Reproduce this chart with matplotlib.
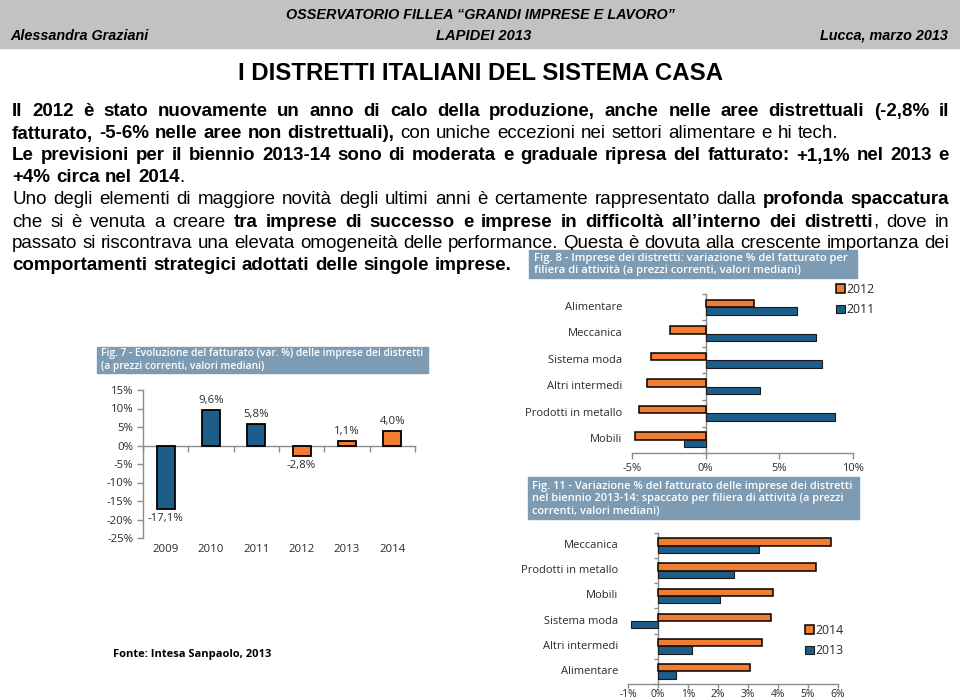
import numpy as np
import matplotlib
matplotlib.use("Agg")
import matplotlib.pyplot as plt
from matplotlib import font_manager
from matplotlib.patches import Rectangle

# ---------------- data ----------------
years = ["2009", "2010", "2011", "2012", "2013", "2014"]
fatturato_var = [-17.1, 9.6, 5.8, -2.8, 1.1, 4.0]
fatturato_labels = ["-17,1%", "9,6%", "5,8%", "-2,8%", "1,1%", "4,0%"]
fig7_yticks = [-25, -20, -15, -10, -5, 0, 5, 10, 15]

fig8_categories = ["Alimentare", "Meccanica", "Sistema moda", "Altri intermedi",
                   "Prodotti in metallo", "Mobili"]
fig8_2012 = [3.3, -2.4, -3.7, -4.0, -4.5, -4.8]
fig8_2011 = [6.2, 7.5, 7.9, 3.7, 8.8, -1.5]
fig8_xticks = [-5, 0, 5, 10]

fig11_categories = ["Meccanica", "Prodotti in metallo", "Mobili", "Sistema moda",
                    "Altri intermedi", "Alimentare"]
fig11_2014 = [5.75, 5.25, 3.83, 3.78, 3.47, 3.07]
fig11_2013 = [3.37, 2.53, 2.06, -0.89, 1.14, 0.61]
fig11_xticks = [-1, 0, 1, 2, 3, 4, 5, 6]

# ---------------- style ----------------
W, H = 960, 700
BLUE = "#1c5d8a"
ORANGE = "#f07d32"
BOXCOL = "#7d9bb3"
HEADCOL = "#c2c2c2"
AXCOL = "#8c8c8c"
TXTCOL = "#2a2a2a"
fig7_colors = [BLUE, BLUE, BLUE, ORANGE, ORANGE, ORANGE]


def has_font(name):
    try:
        font_manager.findfont(name, fallback_to_default=False)
        return True
    except Exception:
        return False


SANS = "Liberation Sans"
NARROW = "Liberation Sans Narrow" if has_font("Liberation Sans Narrow") else "Liberation Sans"
CHART = "Open Sans" if has_font("Open Sans") else "DejaVu Sans"

fig = plt.figure(figsize=(9.6, 7), dpi=100)
fig.patch.set_facecolor("white")
renderer = fig.canvas.get_renderer()


def fx(x):
    return x / W


def fy(y):
    return 1 - y / H


def text_width(s, size, family, weight="normal", style="normal"):
    t = fig.text(0, 0, s, fontsize=size, family=family, weight=weight, style=style)
    w = t.get_window_extent(renderer).width
    t.remove()
    return w


def fit_size(s, target, family, weight="normal", style="normal"):
    return 10.0 * target / text_width(s, 10.0, family, weight, style)


def put(x, y, s, size, family, weight="normal", style="normal", ha="left",
        va="center", color="black"):
    return fig.text(fx(x), fy(y), s, fontsize=size, family=family, weight=weight,
                    style=style, ha=ha, va=va, color=color)


# ---------------- header ----------------
fig.add_artist(Rectangle((0, fy(48)), 1, 48 / H, transform=fig.transFigure,
                         color=HEADCOL, zorder=0))
h1 = "OSSERVATORIO FILLEA \u201cGRANDI IMPRESE E LAVORO\u201d"
s_h = fit_size(h1, 390, NARROW, "bold", "italic")
put(480, 15, h1, s_h, NARROW, "bold", "italic", ha="center")
put(484, 36, "LAPIDEI 2013", s_h * 1.02, NARROW, "bold", "italic", ha="center")
put(10, 36, "Alessandra Graziani", s_h, NARROW, "bold", "italic", ha="left")
put(948, 36, "Lucca, marzo 2013", s_h, NARROW, "bold", "italic", ha="right")

title = "I DISTRETTI ITALIANI DEL SISTEMA CASA"
put(481, 73, title, fit_size(title, 482, NARROW, "bold"), NARROW, "bold", ha="center")

# ---------------- body text (justified) ----------------
body_lines = [
    ([("Il 2012 è stato nuovamente un anno di calo della produzione, anche nelle aree distrettuali (-2,8% il", True)], True),
    ([("fatturato, -5-6% nelle aree non distrettuali),", True),
      (" con uniche eccezioni nei settori alimentare e hi tech.", False)], False),
    ([("Le previsioni per il biennio 2013-14 sono di moderata e graduale ripresa del fatturato: +1,1% nel 2013 e", True)], True),
    ([("+4% circa nel 2014", True), (".", False)], False),
    ([("Uno degli elementi di maggiore novità degli ultimi anni è certamente rappresentato dalla ", False),
      ("profonda spaccatura", True)], True),
    ([("che si è venuta a creare ", False),
      ("tra imprese di successo e imprese in difficoltà all\u2019interno dei distretti", True),
      (", dove in", False)], True),
    ([("passato si riscontrava una elevata omogeneità delle performance. Questa è dovuta alla crescente importanza dei", False)], True),
    ([("comportamenti strategici adottati delle singole imprese.", True)], False),
]
BODY_SIZE = 13.5
BOLD_FAM = SANS
REG_FAM = NARROW


def tokenize(segments):
    words = []
    new_word = True
    for s, b in segments:
        parts = s.split(" ")
        for i, p in enumerate(parts):
            if i > 0:
                new_word = True
            if p == "":
                continue
            if new_word or not words:
                words.append([(p, b)])
            else:
                words[-1].append((p, b))
            new_word = False
    return words


def piece_w(p, b):
    return text_width(p, BODY_SIZE, BOLD_FAM if b else REG_FAM, "bold" if b else "normal")


space_w = text_width("a a", BODY_SIZE, REG_FAM) - text_width("aa", BODY_SIZE, REG_FAM)
X0, X1 = 12, 949
for k, (segs, justify) in enumerate(body_lines):
    base = 116.5 + 22.0 * k
    words = tokenize(segs)
    widths = [[piece_w(p, b) for p, b in w] for w in words]
    total = sum(sum(ws) for ws in widths)
    if justify and len(words) > 1:
        gap = (X1 - X0 - total) / (len(words) - 1)
    else:
        gap = space_w * 1.1
    x = X0
    for w, ws in zip(words, widths):
        for (p, b), pw in zip(w, ws):
            put(x, base, p, BODY_SIZE, BOLD_FAM if b else REG_FAM,
                "bold" if b else "normal", va="baseline")
            x += pw
        x += gap


# ---------------- title boxes ----------------
def title_box(x0, y0, x1, y1, lines, tx, ty_list, target_w):
    fig.add_artist(Rectangle((fx(x0), fy(y1)), (x1 - x0) / W, (y1 - y0) / H,
                             transform=fig.transFigure, color=BOXCOL, zorder=5))
    size = fit_size(lines[0], target_w, CHART, "semibold")
    for s, ty in zip(lines, ty_list):
        t = put(tx, ty, s, size, CHART, "semibold", color="white")
        t.set_zorder(6)


title_box(97, 347, 428, 373,
          ["Fig. 7 - Evoluzione del fatturato (var. %) delle imprese dei distretti",
           "(a prezzi correnti, valori mediani)"], 101, [354, 366], 322)
title_box(529, 250, 857, 278,
          ["Fig. 8 - Imprese dei distretti: variazione % del fatturato per",
           "filiera di attività (a prezzi correnti, valori mediani)"], 534, [258, 271], 314)
title_box(528, 477, 859, 519,
          ["Fig. 11 - Variazione % del fatturato delle imprese dei distretti",
           "nel biennio 2013-14: spaccato per filiera di attività (a prezzi",
           "correnti, valori mediani)"], 532, [487, 499, 511], 318)

CS = fit_size("Prodotti in metallo", 97, CHART)
CS7 = fit_size("-25%", 26, CHART)


def style_axes(ax, size):
    for sp in ["top", "right"]:
        ax.spines[sp].set_visible(False)
    for sp in ["left", "bottom"]:
        ax.spines[sp].set_color(AXCOL)
        ax.spines[sp].set_linewidth(1.0)
    ax.set_facecolor("none")
    ax.tick_params(colors=AXCOL, labelcolor=TXTCOL, labelsize=size, width=1.0, length=4)
    for lab in ax.get_xticklabels() + ax.get_yticklabels():
        lab.set_family(CHART)


# ---------------- Fig. 7 ----------------
ax7 = fig.add_axes([fx(143), fy(538), (415 - 143) / W, (538 - 390) / H])
xpos = np.arange(len(years))
ax7.bar(xpos, fatturato_var, width=0.4, color=fig7_colors, edgecolor="black",
        linewidth=1.3, zorder=3)
ax7.set_xlim(-0.5, len(years) - 0.5)
ax7.set_ylim(-25, 15)
ax7.spines["bottom"].set_position(("data", 0))
ax7.set_xticks(np.arange(-0.5, len(years), 1.0))
ax7.set_xticklabels([])
ax7.set_yticks(fig7_yticks)
ax7.set_yticklabels([f"{v}%" for v in fig7_yticks])
style_axes(ax7, CS7)
ax7.tick_params(axis="y", pad=3)
for i, y in enumerate(years):
    ax7.annotate(y, xy=(i, 0), xycoords=("data", "axes fraction"), xytext=(0, -4),
                 textcoords="offset points", ha="center", va="top", fontsize=CS7,
                 family=CHART, color=TXTCOL)
for i, (v, lab) in enumerate(zip(fatturato_var, fatturato_labels)):
    off = 3 if v >= 0 else -3
    ax7.annotate(lab, xy=(i, v), xytext=(0, off), textcoords="offset points",
                 ha="center", va="bottom" if v >= 0 else "top", fontsize=CS7,
                 family=CHART, color=TXTCOL)


def hbar_chart(ax, cats, top_vals, bot_vals, top_lab, bot_lab, xticks, xlim,
               leg_xy, xpad):
    y = np.arange(len(cats))
    h = 0.29
    b1 = ax.barh(y - h / 2, top_vals, height=h, color=ORANGE, edgecolor="black",
                 linewidth=1.1, zorder=3, label=top_lab)
    b2 = ax.barh(y + h / 2, bot_vals, height=h, color=BLUE, edgecolor="#1a1a1a",
                 linewidth=0.8, zorder=3, label=bot_lab)
    ax.set_ylim(len(cats) - 0.5, -0.5)
    ax.set_xlim(*xlim)
    ax.spines["left"].set_position(("data", 0))
    ax.set_yticks(np.arange(-0.5, len(cats), 1.0))
    ax.set_yticklabels([])
    ax.set_xticks(xticks)
    ax.set_xticklabels([f"{v}%" for v in xticks])
    style_axes(ax, CS)
    ax.tick_params(axis="y", length=3)
    ax.tick_params(axis="x", pad=xpad)
    for i, c in enumerate(cats):
        ax.annotate(c, xy=(0, i), xycoords=("axes fraction", "data"), xytext=(-7, 0),
                    textcoords="offset points", ha="right", va="center",
                    fontsize=CS, family=CHART, color=TXTCOL)
    leg = ax.legend(handles=[b1, b2], labels=[top_lab, bot_lab], loc="upper left",
                    bbox_to_anchor=(fx(leg_xy[0]), fy(leg_xy[1])),
                    bbox_transform=fig.transFigure, frameon=False,
                    handlelength=0.7, handleheight=0.7, handletextpad=0.15,
                    borderpad=0, borderaxespad=0, labelspacing=0.6,
                    prop={"family": CHART, "size": CS * 1.1})
    for t in leg.get_texts():
        t.set_color(TXTCOL)


# ---------------- Fig. 8 ----------------
ax8 = fig.add_axes([fx(632), fy(453), (853 - 632) / W, (453 - 294) / H])
hbar_chart(ax8, fig8_categories, fig8_2012, fig8_2011, "2012", "2011",
           fig8_xticks, (-5, 10), (836, 283), 3)

# ---------------- Fig. 11 ----------------
ax11 = fig.add_axes([fx(628), fy(684), (838 - 628) / W, (684 - 533) / H])
hbar_chart(ax11, fig11_categories, fig11_2014, fig11_2013, "2014", "2013",
           fig11_xticks, (-1, 6), (805, 624), 0.5)
ax11.tick_params(axis="x", length=3, labelsize=CS * 0.92)

# ---------------- source ----------------
src = "Fonte: Intesa Sanpaolo, 2013"
put(113, 654, src, fit_size(src, 159, CHART, "bold"), CHART, "bold")

fig.savefig("out.png", dpi=100, facecolor="white")
